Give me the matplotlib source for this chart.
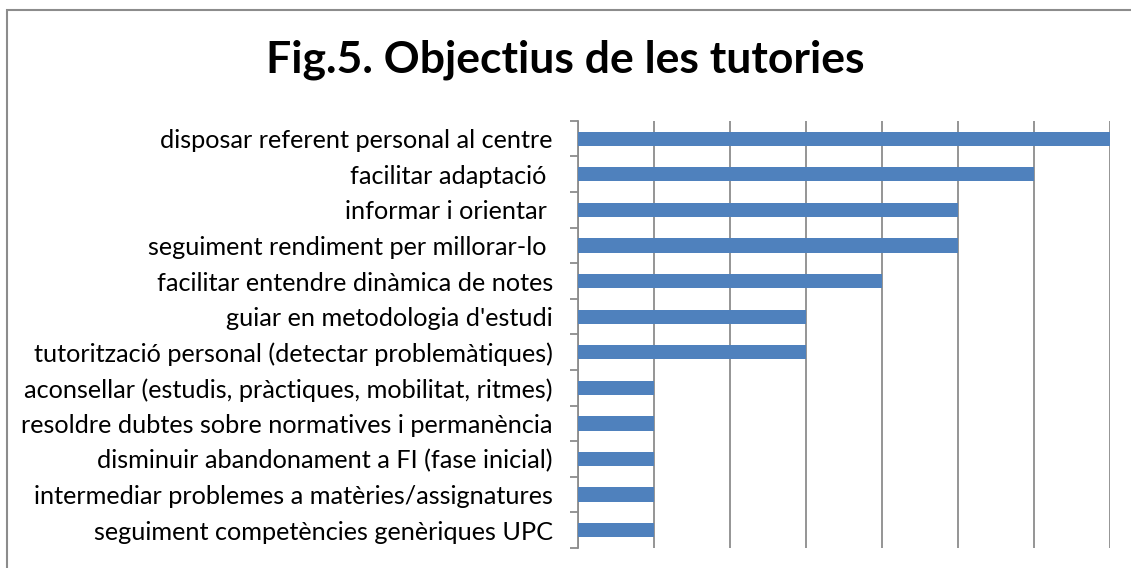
import matplotlib.pyplot as plt
from matplotlib.patches import Rectangle
from matplotlib.ticker import FixedLocator, NullFormatter

# Data (top to bottom as in the chart)
labels = [
    "disposar referent personal al centre",
    "facilitar adaptació ",
    "informar i orientar ",
    "seguiment rendiment per millorar-lo ",
    "facilitar entendre dinàmica de notes",
    "guiar en metodologia d'estudi",
    "tutorització personal (detectar problemàtiques)",
    "aconsellar (estudis, pràctiques, mobilitat, ritmes)",
    "resoldre dubtes sobre normatives i permanència",
    "disminuir abandonament a FI (fase inicial)",
    "intermediar problemes a matèries/assignatures",
    "seguiment competències genèriques UPC",
]
values = [7, 6, 5, 5, 4, 3, 3, 1, 1, 1, 1, 1]

plt.rcParams['font.family'] = ['Lato', 'DejaVu Sans']

fig = plt.figure(figsize=(11.31, 5.68), dpi=100)
ax = fig.add_axes([0.511, 0.0352, 0.4704, 0.752])

n = len(labels)
ypos = list(range(n))[::-1]
ax.barh(ypos, values, height=0.4, color="#4F81BD", zorder=3)

ax.set_xlim(0, 7)
ax.set_ylim(-0.5, n - 0.5)
ax.set_xticks(range(0, 8))
ax.xaxis.grid(True, color="#8c8c8c", linewidth=1.3, zorder=0)
ax.tick_params(axis="x", length=0, labelbottom=False)

ax.set_yticks(ypos)
ax.set_yticklabels(labels, fontsize=18.2)
ax.tick_params(axis="y", which="major", length=0, pad=18)
ax.yaxis.set_minor_locator(FixedLocator([i - 0.5 for i in range(n + 1)]))
ax.yaxis.set_minor_formatter(NullFormatter())
ax.tick_params(axis="y", which="minor", length=6, width=1.3, color="#8c8c8c", direction="out")

for s in ["top", "right", "bottom"]:
    ax.spines[s].set_visible(False)
ax.spines["left"].set_color("#8c8c8c")
ax.spines["left"].set_linewidth(1.3)

fig.text(0.5, 0.895, "Fig.5. Objectius de les tutories", ha="center", va="center",
         fontsize=32, fontweight="bold")

# outer chart border
fig.patches.append(Rectangle((7 / 1131, -0.1), 1.2, 1 - 10 / 568 + 0.1,
                             transform=fig.transFigure, fill=False,
                             edgecolor="#8c8c8c", linewidth=1.5))

fig.savefig("out.png", dpi=100)
